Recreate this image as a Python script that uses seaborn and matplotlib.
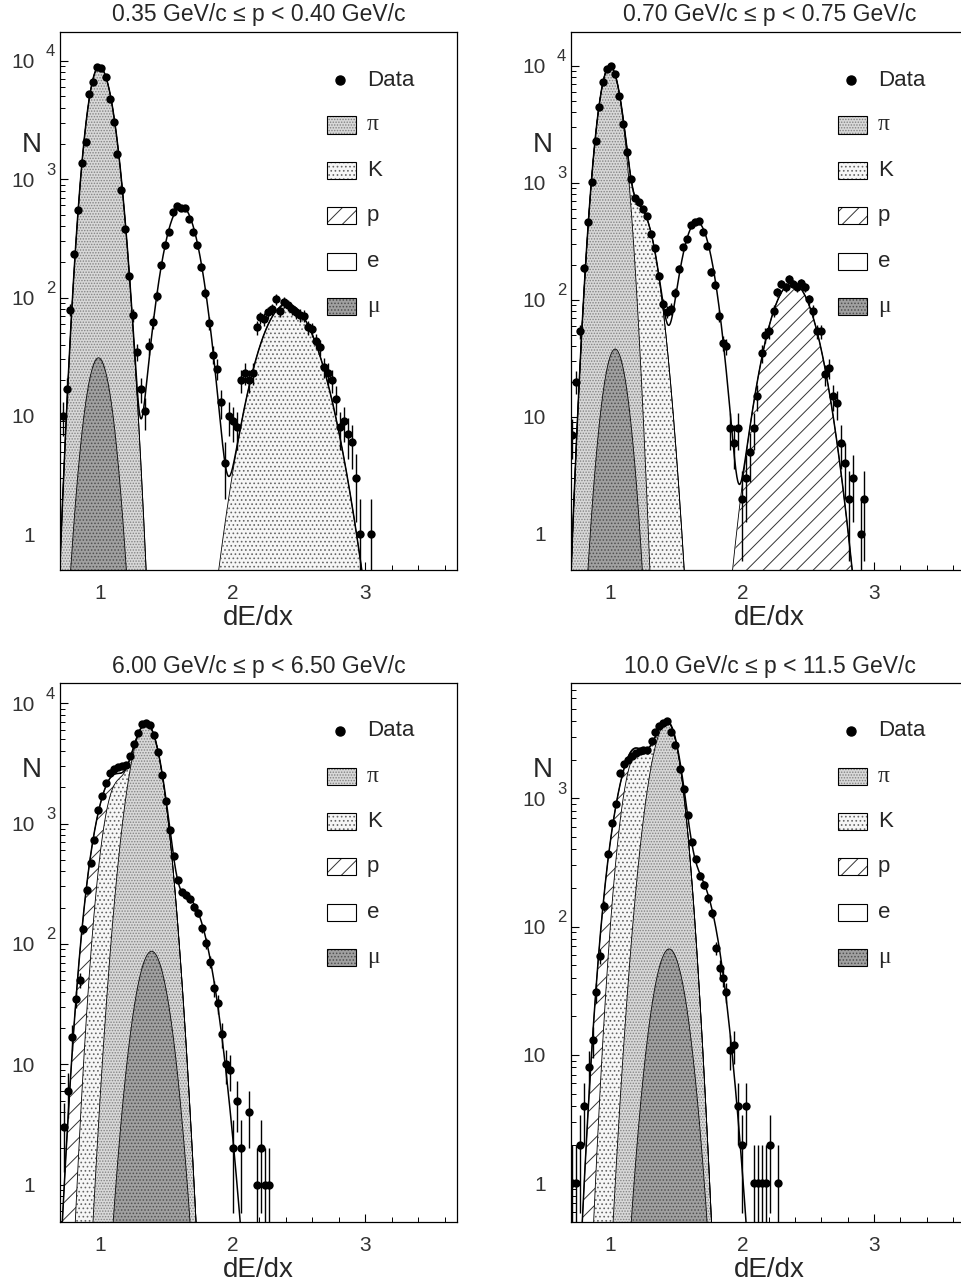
import numpy as np
import pandas as pd
import matplotlib
matplotlib.use("Agg")
import matplotlib.pyplot as plt
import seaborn as sns
from matplotlib.patches import Rectangle
from matplotlib.ticker import LogLocator, MultipleLocator, NullFormatter, FixedLocator

# ---- panel titles ----
titles = ["0.35 GeV/c \u2264 p < 0.40 GeV/c", "0.70 GeV/c \u2264 p < 0.75 GeV/c",
          "6.00 GeV/c \u2264 p < 6.50 GeV/c", "10.0 GeV/c \u2264 p < 11.5 GeV/c"]

# ---- data points (dE/dx bin centre, counts) ----
tl_x = [0.719, 0.749, 0.779, 0.807, 0.839, 0.869, 0.894, 0.922, 0.950, 0.980, 1.010, 1.045,
        1.075, 1.105, 1.133, 1.163, 1.193, 1.223, 1.253, 1.283, 1.313, 1.343, 1.373, 1.404,
        1.434, 1.464, 1.494, 1.524, 1.554, 1.584, 1.615, 1.645, 1.674, 1.704, 1.735, 1.765,
        1.795, 1.825, 1.855, 1.885, 1.915, 1.945, 1.975, 2.005, 2.030, 2.060, 2.090, 2.120,
        2.150, 2.180, 2.210, 2.240, 2.270, 2.300, 2.330, 2.360, 2.390, 2.420, 2.450, 2.480,
        2.510, 2.540, 2.570, 2.600, 2.630, 2.660, 2.690, 2.720, 2.750, 2.780, 2.810, 2.840,
        2.870, 2.900, 2.930, 2.960, 3.045]
tl_n = [10, 17, 79, 234, 546, 1375, 2070, 5250, 6680, 8920, 8720, 7230,
        4800, 3060, 1620, 807, 381, 151, 71, 35, 17, 11, 39, 62,
        104, 187, 276, 357, 527, 594, 571, 571, 464, 357, 276, 181,
        110, 61, 33, 25, 13, 4, 10, 9, 8, 20, 23, 20,
        23, 56, 68, 66, 75, 80, 97, 77, 91, 86, 80, 75,
        71, 70, 56, 54, 43, 38, 26, 23, 20, 14, 8, 9,
        7, 6, 3, 1, 1]

tr_x = [0.704, 0.737, 0.768, 0.798, 0.831, 0.861, 0.889, 0.914, 0.944, 0.970, 1.000, 1.035,
        1.065, 1.096, 1.126, 1.156, 1.187, 1.217, 1.247, 1.278, 1.308, 1.338, 1.369, 1.399,
        1.429, 1.460, 1.490, 1.520, 1.550, 1.581, 1.611, 1.641, 1.671, 1.702, 1.732, 1.762,
        1.793, 1.823, 1.853, 1.880, 1.906, 1.934, 1.964, 1.994, 2.025, 2.055, 2.085, 2.115,
        2.146, 2.176, 2.206, 2.237, 2.267, 2.297, 2.328, 2.358, 2.388, 2.418, 2.449, 2.479,
        2.509, 2.539, 2.570, 2.600, 2.630, 2.660, 2.691, 2.721, 2.751, 2.781, 2.811, 2.842,
        2.897, 2.927]
tr_n = [7, 20, 54, 187, 461, 1025, 2290, 4470, 7340, 9420, 10000, 8500,
        5570, 3190, 1830, 1080, 741, 684, 600, 526, 366, 277, 159, 92,
        79, 84, 115, 184, 282, 332, 440, 461, 468, 380, 288, 173,
        135, 73, 43, 40, 8, 6, 8, 2, 3, 5, 8, 15,
        35, 50, 54, 81, 116, 137, 128, 151, 137, 128, 140, 128,
        101, 81, 54, 54, 23, 26, 15, 13, 6, 4, 2, 3,
        1, 2]

bl_x = [0.728, 0.758, 0.788, 0.818, 0.848, 0.875, 0.902, 0.930, 0.958, 0.988, 1.018, 1.048,
        1.078, 1.108, 1.138, 1.168, 1.198, 1.228, 1.258, 1.288, 1.318, 1.348, 1.378, 1.408,
        1.438, 1.470, 1.500, 1.530, 1.560, 1.590, 1.620, 1.650, 1.680, 1.710, 1.740, 1.770,
        1.800, 1.830, 1.860, 1.890, 1.920, 1.950, 1.980, 2.005, 2.035, 2.065, 2.125, 2.185,
        2.215, 2.245, 2.275]
bl_n = [3, 6, 17, 35, 50, 132, 279, 468, 728, 1297, 1680, 2180,
        2610, 2820, 2970, 2990, 3070, 3610, 4620, 5610, 6680, 6820, 6600, 5400,
        3900, 2530, 1550, 879, 540, 339, 270, 253, 234, 201, 180, 136,
        101, 71, 43, 32, 18, 10, 9, 2, 5, 2, 4, 1,
        2, 1, 1]

br_x = [0.707, 0.737, 0.770, 0.800, 0.833, 0.864, 0.893, 0.923, 0.950, 0.980, 1.010, 1.040,
        1.070, 1.100, 1.130, 1.160, 1.190, 1.220, 1.250, 1.280, 1.311, 1.341, 1.371, 1.401,
        1.432, 1.462, 1.492, 1.528, 1.558, 1.588, 1.619, 1.649, 1.679, 1.710, 1.740, 1.770,
        1.800, 1.830, 1.855, 1.880, 1.905, 1.935, 1.965, 1.995, 2.025, 2.091, 2.121, 2.152,
        2.182, 2.212, 2.273]
br_n = [1, 1, 2, 4, 8, 13, 31, 59, 145, 371, 644, 902,
        1563, 1845, 2000, 2150, 2250, 2330, 2360, 2360, 2770, 3260, 3680, 3870,
        3990, 3260, 2580, 1680, 1186, 736, 459, 338, 249, 211, 167, 127,
        68, 48, 40, 31, 11, 12, 4, 2, 4, 1, 1, 1,
        1, 2, 1]

# ---- fitted particle components: (amplitude, mean, sigma below mean, sigma above mean) ----
# stacked bottom -> top : mu, pi, K, p, e
tl_comp = {"mu": (31, 0.99, 0.073, 0.073), "pi": (8900, 0.995, 0.067, 0.080),
           "K": (88, 2.41, 0.16, 0.175), "p": (0, 2.4, 0.1, 0.1), "e": (590, 1.615, 0.10, 0.10)}
tr_comp = {"mu": (38, 1.035, 0.07, 0.07), "pi": (9900, 0.995, 0.066, 0.068),
           "K": (600, 1.22, 0.09, 0.09), "p": (140, 2.38, 0.135, 0.135), "e": (465, 1.655, 0.092, 0.092)}
bl_comp = {"mu": (87, 1.39, 0.09, 0.09), "pi": (6700, 1.35, 0.092, 0.085),
           "K": (1900, 1.12, 0.075, 0.075), "p": (900, 1.02, 0.078, 0.078), "e": (235, 1.66, 0.113, 0.113)}
br_comp = {"mu": (67, 1.445, 0.092, 0.092), "pi": (3850, 1.43, 0.097, 0.078),
           "K": (2050, 1.19, 0.078, 0.088), "p": (620, 1.08, 0.078, 0.078), "e": (235, 1.66, 0.105, 0.105)}

ylims = [(0.5, 1.75e4), (0.49, 1.95e4), (0.49, 1.47e4), (0.5, 7900)]

# fill styles, ROOT-like stipples
styles = {
    "mu": dict(fc="#a0a0a0", hc="#505050", hatch="....."),
    "pi": dict(fc="#d8d8d8", hc="#838383", hatch="......"),
    "K": dict(fc="#f6f6f6", hc="#666666", hatch="...."),
    "p": dict(fc="white", hc="#333333", hatch="//"),
    "e": dict(fc="white", hc="white", hatch=None),
}
order = ["mu", "pi", "K", "p", "e"]
legend_sym = [("pi", "\u03c0"), ("K", "K"), ("p", "p"), ("e", "e"), ("mu", "\u03bc")]

sns.set_theme(style="ticks")
plt.rcParams["font.family"] = ["Liberation Sans", "DejaVu Sans"]
plt.rcParams["hatch.linewidth"] = 0.7

FW, FH = 961, 1287
PX = 0.72  # points per pixel at dpi 100


def comp(x, par):
    a, m, sl, sh = par
    s = np.where(x < m, sl, sh)
    return a * np.exp(-0.5 * ((x - m) / s) ** 2)


fig = plt.figure(figsize=(FW / 100, FH / 100), dpi=100)
fig.patch.set_facecolor("white")

# (left, top, width, height) in pixels
boxes = [(60, 32, 397, 538), (571, 32, 394, 538), (60, 683, 397, 539), (571, 683, 394, 539)]
panels = [(tl_x, tl_n, tl_comp), (tr_x, tr_n, tr_comp), (bl_x, bl_n, bl_comp), (br_x, br_n, br_comp)]

xx = np.linspace(0.6, 3.8, 1600)

for i, ((L, T, W, H), (dx, dn, cp)) in enumerate(zip(boxes, panels)):
    ax = fig.add_axes([L / FW, 1 - (T + H) / FH, W / FW, H / FH])
    ax.set_facecolor("white")
    ax.set_yscale("log")
    ax.set_xlim(0.70, 3.69)
    ax.set_ylim(*ylims[i])
    ax.set_axisbelow(True)

    # stacked components
    cum = np.full_like(xx, 1e-3)
    for key in order:
        par = cp[key]
        if par[0] <= 0:
            continue
        top = cum + comp(xx, par)
        st = styles[key]
        ax.fill_between(xx, cum, top, facecolor=st["fc"], edgecolor=st["hc"],
                        hatch=st["hatch"], linewidth=0, zorder=1)
        if key != "e":
            ax.plot(xx, top, color="black", lw=0.6, zorder=2)
        cum = top
    ax.plot(xx, cum, color="black", lw=1.1, zorder=2)

    # data with Poisson errors
    x = np.array(dx, dtype=float)
    n = np.array(dn, dtype=float)
    err = np.sqrt(n)
    lo = np.minimum(err, n - 1e-2)
    ax.errorbar(x, n, yerr=[lo, err], fmt="none", ecolor="black", elinewidth=1.0,
                capsize=0, zorder=3)
    df = pd.DataFrame({"dedx": x, "N": n})
    sns.scatterplot(data=df, x="dedx", y="N", ax=ax, color="black", s=36,
                    linewidth=0, zorder=4, legend=False)
    ax.set_xlabel("")
    ax.set_ylabel("")

    # axes frame and ticks
    for sp in ax.spines.values():
        sp.set_linewidth(0.9)
        sp.set_color("black")
    ax.xaxis.set_major_locator(FixedLocator([1, 2, 3]))
    ax.xaxis.set_minor_locator(MultipleLocator(0.2))
    ax.set_xticklabels(["1", "2", "3"])
    ax.yaxis.set_major_locator(LogLocator(base=10, numticks=10))
    ax.yaxis.set_minor_locator(LogLocator(base=10, subs=np.arange(2, 10), numticks=20))
    ax.yaxis.set_major_formatter(NullFormatter())
    ax.yaxis.set_minor_formatter(NullFormatter())
    ax.tick_params(axis="both", which="both", direction="in", top=False, right=False,
                   color="black")
    ax.tick_params(axis="both", which="major", length=6, width=0.8)
    ax.tick_params(axis="both", which="minor", length=3.5, width=0.7)
    ax.tick_params(axis="x", which="major", labelsize=15, pad=10, labelcolor="#333333")

    # y tick labels, ROOT style 10^n
    for v in [1, 10, 100, 1000, 10000]:
        if not (ylims[i][0] <= v <= ylims[i][1]):
            continue
        if v < 100:
            ax.annotate(str(v), xy=(0, v), xycoords=("axes fraction", "data"),
                        xytext=(-25 * PX, -2 * PX), textcoords="offset points",
                        ha="right", va="center", fontsize=15, color="#333333")
        else:
            ax.annotate("10", xy=(0, v), xycoords=("axes fraction", "data"),
                        xytext=(-25 * PX, -2 * PX), textcoords="offset points",
                        ha="right", va="center", fontsize=15, color="#333333")
            ax.annotate(str(int(round(np.log10(v)))), xy=(0, v),
                        xycoords=("axes fraction", "data"),
                        xytext=(-14 * PX, 9 * PX), textcoords="offset points",
                        ha="left", va="center", fontsize=12, color="#333333")

    # titles and axis labels
    fig.text((L + 198.5) / FW, 1 - (T - 17) / FH, titles[i], ha="center", va="center",
             fontsize=16.5)
    fig.text((L + 198.5) / FW, 1 - (T + H + 48) / FH, "dE/dx", ha="center", va="center",
             fontsize=20)
    fig.text((L - 28) / FW, 1 - (T + 113 if i < 2 else T + 87) / FH, "N",
             ha="center", va="center", fontsize=20)

    # legend, drawn by hand in axes fraction units
    def af(px, py):
        return px / W, 1 - py / H

    mx, my = af(280, 48)
    ax.plot([mx], [my], "o", color="black", ms=6.5, transform=ax.transAxes, clip_on=False,
            zorder=5)
    tx, ty = af(307, 48)
    ax.text(tx, ty, "Data", transform=ax.transAxes, ha="left", va="center", fontsize=16)
    for j, (key, sym) in enumerate(legend_sym):
        cy = 93 + 45.4 * j
        bx, by = af(267, cy + 8.5)
        st = styles[key]
        ax.add_patch(Rectangle((bx, by), 29 / W, 17 / H, transform=ax.transAxes,
                               facecolor=st["fc"], edgecolor=st["hc"], hatch=st["hatch"],
                               linewidth=0, zorder=5))
        ax.add_patch(Rectangle((bx, by), 29 / W, 17 / H, transform=ax.transAxes,
                               facecolor="none", edgecolor="black", linewidth=0.8,
                               zorder=6))
        tx, ty = af(307, cy)
        fam = ["Liberation Serif", "DejaVu Serif"] if key in ("pi", "mu") else ["Liberation Sans", "DejaVu Sans"]
        ax.text(tx, ty, sym, transform=ax.transAxes, ha="left", va="center",
                fontsize=17 if key in ("pi", "mu") else 16, family=fam)

fig.savefig("out.png", dpi=100, facecolor="white")
